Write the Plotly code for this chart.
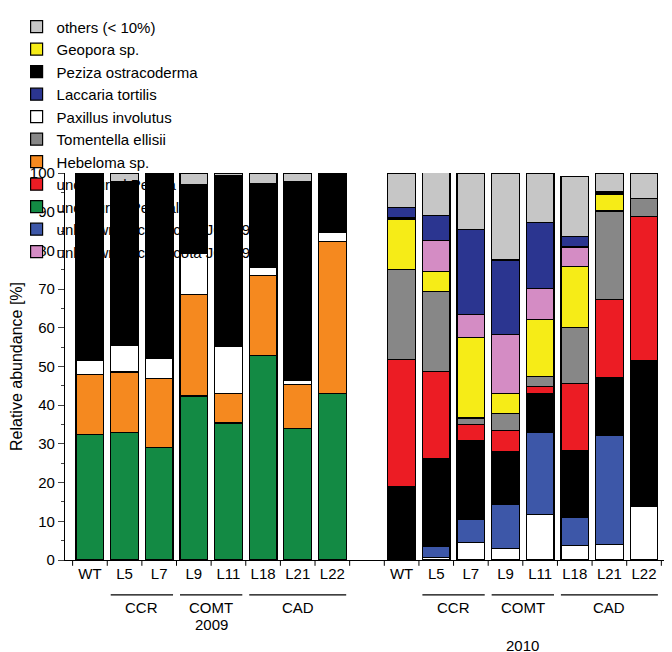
import plotly.graph_objects as go

labels_2009 = ["WT", "L5", "L7", "L9", "L11", "L18", "L21", "L22"]
labels_2010 = ["WT", "L5", "L7", "L9", "L11", "L18", "L21", "L22"]
x_2009 = [0, 1, 2, 3, 4, 5, 6, 7]
x_2010 = [9, 10, 11, 12, 13, 14, 15, 16]

# 2009 segments (bottom to top)
pezizales_09 = [32.4, 32.9, 29.1, 42.4, 35.4, 52.8, 33.9, 43.0]
hebeloma_09 = [15.6, 15.7, 17.8, 26.2, 7.6, 20.7, 11.4, 39.4]
paxillus_09 = [3.5, 6.8, 5.2, 10.7, 12.2, 2.1, 1.0, 2.3]
peziza_09 = [48.5, 42.3, 47.9, 17.8, 44.2, 21.7, 51.6, 15.3]
others_09 = [0.0, 2.3, 0.0, 2.9, 0.6, 2.7, 2.1, 0.0]

# 2010 segments (bottom to top)
paxillus_10 = [0.5, 0.7, 4.5, 3.0, 11.8, 3.8, 4.0, 13.8]
jq294_10 = [0.5, 2.9, 5.9, 11.4, 21.2, 7.3, 28.3, 0.0]
peziza_10 = [18.0, 22.6, 20.4, 13.6, 10.0, 17.2, 14.8, 37.8]
unc_peziza_10 = [32.9, 22.5, 4.2, 5.4, 1.9, 17.4, 20.3, 37.1]
tomentella_10 = [23.2, 20.6, 1.7, 4.5, 2.5, 14.3, 22.8, 4.7]
geopora_10 = [12.8, 5.2, 20.7, 5.1, 14.8, 15.9, 4.2, 0.0]
peziza_top_10 = [0.7, 0.0, 0.0, 0.0, 0.0, 0.0, 0.8, 0.0]
jq287_10 = [0.0, 8.1, 6.0, 15.2, 7.9, 5.0, 0.0, 0.0]
laccaria_10 = [2.5, 6.4, 22.0, 19.3, 17.2, 2.7, 0.0, 0.0]
others_10 = [8.9, 11.1, 14.6, 22.5, 12.7, 15.4, 4.6, 6.5]

C = dict(others="#c6c6c6", peziza="#000000", paxillus="#ffffff", hebeloma="#f5891f",
         pezizales="#138a44", jq287="#d48cc4", geopora="#f6ec17", laccaria="#2b3590",
         tomentella="#878787", unc_peziza="#ec1c24", jq294="#3d57a8")

fig = go.Figure()

def bar(x, y, name, color, show):
    fig.add_trace(go.Bar(x=x, y=y, name=name, marker_color=color,
                         marker_line=dict(color="black", width=1.2),
                         showlegend=show))

# stacking order
bar(x_2009, pezizales_09, "uncultured Pezizales", C["pezizales"], False)
bar(x_2009, hebeloma_09, "Hebeloma sp.", C["hebeloma"], False)
bar(x_2009, paxillus_09, "Paxillus involutus", C["paxillus"], False)
bar(x_2009, peziza_09, "Peziza ostracoderma", C["peziza"], False)
bar(x_2009, others_09, "others (< 10%)", C["others"], False)
bar(x_2010, paxillus_10, "Paxillus involutus", C["paxillus"], False)
bar(x_2010, jq294_10, "unknown Ascomycota JQ409294", C["jq294"], False)
bar(x_2010, peziza_10, "Peziza ostracoderma", C["peziza"], False)
bar(x_2010, unc_peziza_10, "uncultured Peziza", C["unc_peziza"], False)
bar(x_2010, tomentella_10, "Tomentella ellisii", C["tomentella"], False)
bar(x_2010, geopora_10, "Geopora sp.", C["geopora"], False)
bar(x_2010, peziza_top_10, "Peziza ostracoderma", C["peziza"], False)
bar(x_2010, jq287_10, "unknown Ascomycota JQ409287", C["jq287"], False)
bar(x_2010, laccaria_10, "Laccaria tortilis", C["laccaria"], False)
bar(x_2010, others_10, "others (< 10%)", C["others"], False)

# legend-only entries in row-major order
legend_items = [("others (< 10%)", "others"), ("Geopora sp.", "geopora"),
                ("Peziza ostracoderma", "peziza"), ("Laccaria tortilis", "laccaria"),
                ("Paxillus involutus", "paxillus"), ("Tomentella ellisii", "tomentella"),
                ("Hebeloma sp.", "hebeloma"), ("uncultured Peziza", "unc_peziza"),
                ("uncultured Pezizales", "pezizales"), ("unknown Ascomycota JQ409294", "jq294"),
                ("unknown Ascomycota JQ409287", "jq287")]
for name, key in legend_items:
    fig.add_trace(go.Bar(x=[None], y=[None], name=name, marker_color=C[key],
                         marker_line=dict(color="black", width=1.2), showlegend=True))

# x ticks between bars
for xs in (x_2009, x_2010):
    for v in [xs[0] - 0.5] + [xx + 0.5 for xx in xs]:
        fig.add_shape(type="line", xref="x", yref="paper", x0=v, x1=v, y0=0, y1=-0.015,
                      line=dict(color="black", width=1))

groups = [("CCR", 1, 2), ("COMT", 3, 4), ("CAD", 5, 7)]
for xs in (x_2009, x_2010):
    for name, a, b in groups:
        fig.add_shape(type="line", xref="x", yref="paper", x0=xs[a] - 0.4, x1=xs[b] + 0.4,
                      y0=-0.09, y1=-0.09, line=dict(color="black", width=1.2))
        fig.add_annotation(x=(xs[a] + xs[b]) / 2, y=-0.095, xref="x", yref="paper",
                           text=name, showarrow=False, yanchor="top", font=dict(size=15))
fig.add_annotation(x=(x_2009[0] + x_2009[-1]) / 2, y=-0.14, xref="x", yref="paper",
                   text="2009", showarrow=False, yanchor="top", font=dict(size=15))
fig.add_annotation(x=(x_2010[0] + x_2010[-1]) / 2, y=-0.195, xref="x", yref="paper",
                   text="2010", showarrow=False, yanchor="top", font=dict(size=15))

fig.update_layout(
    width=672, height=652, barmode="stack", bargap=0.2,
    plot_bgcolor="white", paper_bgcolor="white",
    font=dict(family="Liberation Sans, Arial", size=15, color="black"),
    margin=dict(l=57, r=10, t=165, b=100, autoexpand=False),
    legend=dict(orientation="h", x=-0.08, y=1.42, xanchor="left", yanchor="top",
                entrywidth=290, entrywidthmode="pixels", font=dict(size=15),
                traceorder="normal", bgcolor="rgba(0,0,0,0)", tracegroupgap=0),
    xaxis=dict(range=[-0.72, 16.75], tickvals=x_2009 + x_2010,
               ticktext=labels_2009 + labels_2010, ticks="", showline=True,
               linecolor="black", linewidth=1.2, showgrid=False, zeroline=False,
               tickfont=dict(size=15)),
    yaxis=dict(range=[0, 100], dtick=10, ticks="outside", ticklen=6, showline=True,
               linecolor="black", linewidth=1.2, showgrid=False, zeroline=False,
               minor=dict(dtick=5, ticks="outside", ticklen=3),
               title=dict(text="Relative abundance [%]", font=dict(size=16), standoff=6),
               tickfont=dict(size=15)),
)

fig.write_html("out.html")
